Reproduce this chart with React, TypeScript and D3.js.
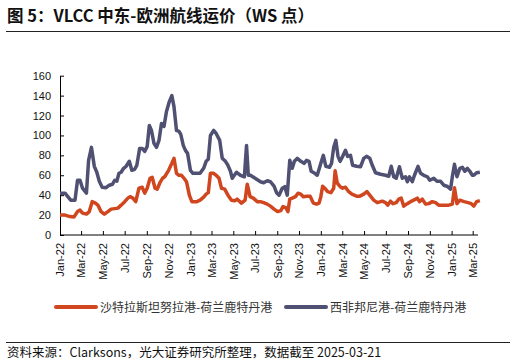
import React, { useEffect, useRef } from 'react';
import * as d3 from 'd3';

// 沙特拉斯坦努拉港-荷兰鹿特丹港 (WS)
const redDates = [
  '2022-01-01', '2022-01-15', '2022-01-29', '2022-02-09', '2022-02-19', '2022-02-26', '2022-03-05', '2022-03-16',
  '2022-03-24', '2022-04-01', '2022-04-10', '2022-04-17', '2022-04-26', '2022-05-05', '2022-05-15', '2022-05-24',
  '2022-06-03', '2022-06-12', '2022-06-21', '2022-07-01', '2022-07-10', '2022-07-16', '2022-07-24', '2022-08-01',
  '2022-08-10', '2022-08-19', '2022-08-26', '2022-09-02', '2022-09-10', '2022-09-16', '2022-09-24', '2022-09-30',
  '2022-10-07', '2022-10-15', '2022-10-21', '2022-11-01', '2022-11-10', '2022-11-16', '2022-11-23', '2022-11-30',
  '2022-12-07', '2022-12-14', '2022-12-21', '2022-12-29', '2023-01-05', '2023-01-19', '2023-01-28', '2023-02-07',
  '2023-02-14', '2023-02-20', '2023-02-26', '2023-03-07', '2023-03-14', '2023-03-22', '2023-03-29', '2023-04-07',
  '2023-04-16', '2023-04-26', '2023-05-05', '2023-05-12', '2023-05-24', '2023-06-03', '2023-06-09', '2023-06-17',
  '2023-06-26', '2023-07-07', '2023-07-16', '2023-07-25', '2023-08-04', '2023-08-13', '2023-08-23', '2023-09-02',
  '2023-09-11', '2023-09-17', '2023-09-25', '2023-10-01', '2023-10-06', '2023-10-13', '2023-10-22', '2023-10-29',
  '2023-11-06', '2023-11-13', '2023-11-22', '2023-12-02', '2023-12-11', '2023-12-20', '2023-12-27', '2024-01-01',
  '2024-01-06', '2024-01-12', '2024-01-20', '2024-01-29', '2024-02-06', '2024-02-10', '2024-02-16', '2024-02-24',
  '2024-03-02', '2024-03-10', '2024-03-19', '2024-03-28', '2024-04-10', '2024-04-19', '2024-04-30', '2024-05-09',
  '2024-05-19', '2024-05-28', '2024-06-07', '2024-06-21', '2024-06-30', '2024-07-06', '2024-07-14', '2024-07-21',
  '2024-07-30', '2024-08-06', '2024-08-13', '2024-08-20', '2024-08-30', '2024-09-08', '2024-09-17', '2024-09-27',
  '2024-10-03', '2024-10-11', '2024-10-20', '2024-10-29', '2024-11-08', '2024-11-17', '2024-11-26', '2024-12-10',
  '2024-12-24', '2025-01-03', '2025-01-09', '2025-01-16', '2025-01-24', '2025-02-05', '2025-02-16', '2025-02-25',
  '2025-03-04', '2025-03-12', '2025-03-21',
];
const redValues = [
  20, 20, 18.5, 18, 23.5, 25, 22, 21,
  23.5, 33.5, 32, 30, 23.5, 21, 23.5, 26,
  26.5, 27, 30, 33.5, 37, 38.5, 37, 33.5,
  47, 48, 42, 47, 57, 58, 47, 46,
  52, 57, 58.5, 65, 72, 77, 62, 60,
  60, 57, 53.5, 40, 33.5, 33.5, 35, 38,
  41, 42.5, 62, 62, 60, 57, 47, 46,
  40, 35, 34.5, 36, 32, 35, 51, 38.5,
  37, 33.5, 33.5, 32.5, 31, 29, 26, 23.5,
  24.5, 28.5, 27.5, 23.5, 36, 37, 38.5, 42,
  41, 38.5, 39, 39, 32, 31, 32, 38.5,
  49, 47, 43.5, 42.5, 47, 64.5, 52, 48.5,
  47, 48, 43.5, 41, 39, 39, 41, 43.5,
  39, 35, 32.5, 34, 32.5, 30, 34, 31.5,
  32.5, 36, 37, 29, 31.5, 33.5, 35, 37,
  33.5, 36, 31, 31.5, 33.5, 32.5, 30, 30,
  30, 31, 47.5, 31.5, 35, 33.5, 32.5, 31.5,
  29, 33.5, 34.5,
];

// 西非邦尼港-荷兰鹿特丹港 (WS)
const blueDates = [
  '2022-01-01', '2022-01-15', '2022-01-24', '2022-01-31', '2022-02-12', '2022-02-19', '2022-02-26', '2022-03-05',
  '2022-03-16', '2022-03-22', '2022-03-30', '2022-04-07', '2022-04-14', '2022-04-21', '2022-04-29', '2022-05-10',
  '2022-05-19', '2022-05-28', '2022-06-03', '2022-06-09', '2022-06-15', '2022-06-21', '2022-06-28', '2022-07-05',
  '2022-07-14', '2022-07-21', '2022-07-29', '2022-08-04', '2022-08-12', '2022-08-19', '2022-08-26', '2022-09-02',
  '2022-09-08', '2022-09-14', '2022-09-21', '2022-09-28', '2022-10-05', '2022-10-12', '2022-10-19', '2022-10-26',
  '2022-11-03', '2022-11-10', '2022-11-16', '2022-11-23', '2022-11-30', '2022-12-05', '2022-12-12', '2022-12-18',
  '2022-12-24', '2023-01-01', '2023-01-08', '2023-01-19', '2023-01-28', '2023-02-07', '2023-02-14', '2023-02-20',
  '2023-02-26', '2023-03-07', '2023-03-14', '2023-03-24', '2023-03-31', '2023-04-09', '2023-04-16', '2023-04-23',
  '2023-04-28', '2023-05-10', '2023-05-21', '2023-06-01', '2023-06-07', '2023-06-12', '2023-06-18', '2023-07-01',
  '2023-07-16', '2023-07-25', '2023-08-04', '2023-08-13', '2023-08-23', '2023-08-30', '2023-09-06', '2023-09-15',
  '2023-09-22', '2023-09-29', '2023-10-06', '2023-10-13', '2023-10-19', '2023-10-27', '2023-11-06', '2023-11-15',
  '2023-11-22', '2023-11-29', '2023-12-05', '2023-12-15', '2023-12-22', '2024-01-01', '2024-01-08', '2024-01-15',
  '2024-01-25', '2024-01-31', '2024-02-06', '2024-02-12', '2024-02-18', '2024-02-24', '2024-03-02', '2024-03-10',
  '2024-03-16', '2024-03-24', '2024-03-30', '2024-04-10', '2024-04-21', '2024-04-30', '2024-05-08', '2024-05-17',
  '2024-05-24', '2024-06-02', '2024-06-16', '2024-06-30', '2024-07-09', '2024-07-16', '2024-07-23', '2024-07-30',
  '2024-08-08', '2024-08-16', '2024-08-25', '2024-08-30', '2024-09-05', '2024-09-13', '2024-09-19', '2024-09-29',
  '2024-10-06', '2024-10-15', '2024-10-25', '2024-11-01', '2024-11-12', '2024-11-21', '2024-12-01', '2024-12-10',
  '2024-12-19', '2024-12-29', '2025-01-03', '2025-01-09', '2025-01-16', '2025-01-24', '2025-01-31', '2025-02-07',
  '2025-02-14', '2025-02-21', '2025-02-28', '2025-03-04', '2025-03-12', '2025-03-21',
];
const blueValues = [
  42, 42, 38, 35, 35, 55, 55, 47,
  42, 75, 88, 69, 63, 54, 48, 47.5,
  50, 51, 55, 54, 62, 63, 67, 69,
  74, 65, 66, 70, 87, 87, 84, 89,
  110, 105, 92, 88, 95, 112, 109, 124,
  134, 140, 129, 105, 104, 101, 90, 85,
  82, 65, 62, 62, 62, 67, 74, 76,
  100, 105, 102, 95, 77, 74, 70, 64,
  57, 63, 60, 58.5, 90, 60, 60, 57,
  53.5, 52.5, 54.5, 53.5, 49, 42.5, 40, 47,
  48.5, 40, 75, 67, 74, 77, 74, 72,
  75, 74, 64, 62, 60, 72, 80, 69,
  68, 72, 88, 95, 79, 74, 79, 85,
  79, 80, 70, 69, 68.5, 77, 79, 77,
  70, 62.5, 61, 60, 59, 69, 58.5, 57,
  68.5, 57, 58.5, 53.5, 58.5, 53.5, 60, 69,
  62, 60, 58.5, 55, 57, 54, 54, 50,
  49, 46, 58.5, 71, 58.5, 67, 68, 64,
  67, 64, 60, 60, 62.5, 63,
];

const yTicks = [0, 20, 40, 60, 80, 100, 120, 140, 160];
const seriesNames = ['沙特拉斯坦努拉港-荷兰鹿特丹港', '西非邦尼港-荷兰鹿特丹港'];
const seriesColors = ['#d0461f', '#4f5072'];

const App = () => {
  const ref = useRef<SVGSVGElement | null>(null);

  useEffect(() => {
    if (!ref.current) return;
    const W = 516, H = 364;
    const svg = d3.select(ref.current);
    svg.selectAll('*').remove();

    const cjk = '"Noto Sans CJK SC", "Noto Sans", sans-serif';
    const latin = '"Liberation Sans", Arial, sans-serif';

    // title
    svg.append('text')
      .attr('x', 7).attr('y', 22)
      .attr('font-family', cjk).attr('font-weight', 'bold').attr('font-size', 16.5)
      .attr('fill', '#111')
      .text('图 5：VLCC 中东-欧洲航线运价（WS 点）');
    svg.append('line')
      .attr('x1', 6).attr('x2', 510).attr('y1', 31.5).attr('y2', 31.5)
      .attr('stroke', '#222').attr('stroke-width', 1);

    const parse = d3.timeParse('%Y-%m-%d');
    const x = d3.scaleTime()
      .domain([parse('2022-01-01')!, parse('2025-03-01')!])
      .range([60, 472.7]);
    const y = d3.scaleLinear().domain([0, 160]).range([235, 75.7]);

    // y axis
    const yAxis = svg.append('g')
      .attr('transform', 'translate(60,0)')
      .call(d3.axisLeft(y).tickValues(yTicks).tickSizeInner(-4).tickSizeOuter(0).tickPadding(9));
    yAxis.select('.domain').attr('stroke', '#000');
    yAxis.selectAll('.tick line').attr('stroke', '#000');
    yAxis.selectAll('text').attr('font-family', latin).attr('font-size', 11).attr('fill', '#111');

    // x axis
    const xTicks = d3.timeMonth.every(2)!.range(parse('2022-01-01')!, parse('2025-03-02')!);
    const xAxis = svg.append('g')
      .attr('transform', 'translate(0,235)')
      .call(d3.axisBottom(x).tickValues(xTicks).tickFormat(d3.timeFormat('%b-%y') as any)
        .tickSizeInner(-4).tickSizeOuter(0));
    xAxis.select('.domain').attr('d', 'M60,0H478').attr('stroke', '#000');
    xAxis.selectAll('.tick line').attr('stroke', '#000');
    xAxis.selectAll('text')
      .attr('font-family', latin).attr('font-size', 11).attr('fill', '#111')
      .attr('transform', 'rotate(-90)')
      .attr('text-anchor', 'end')
      .attr('x', -8).attr('y', 0).attr('dy', '0.35em');

    const line = d3.line<[Date, number]>()
      .x(d => x(d[0]))
      .y(d => y(d[1]))
      .curve(d3.curveLinear);

    const blue: [Date, number][] = blueDates.map((d, i) => [parse(d)!, blueValues[i]]);
    const red: [Date, number][] = redDates.map((d, i) => [parse(d)!, redValues[i]]);

    svg.append('path').datum(blue)
      .attr('d', line).attr('fill', 'none')
      .attr('stroke', seriesColors[1]).attr('stroke-width', 3.5)
      .attr('stroke-linejoin', 'round');
    svg.append('path').datum(red)
      .attr('d', line).attr('fill', 'none')
      .attr('stroke', seriesColors[0]).attr('stroke-width', 3.5)
      .attr('stroke-linejoin', 'round');

    // legend
    const legendX = [56, 286];
    seriesNames.forEach((name, i) => {
      svg.append('line')
        .attr('x1', legendX[i]).attr('x2', legendX[i] + 40)
        .attr('y1', 307).attr('y2', 307)
        .attr('stroke', seriesColors[i]).attr('stroke-width', 4).attr('stroke-linecap', 'round');
      svg.append('text')
        .attr('x', legendX[i] + 44).attr('y', 311.5)
        .attr('font-family', cjk).attr('font-size', 12).attr('fill', '#333')
        .text(name);
    });

    // source
    svg.append('line')
      .attr('x1', 6).attr('x2', 510).attr('y1', 342.5).attr('y2', 342.5)
      .attr('stroke', '#222').attr('stroke-width', 1);
    svg.append('text')
      .attr('x', 7).attr('y', 357)
      .attr('font-family', cjk).attr('font-size', 12.5).attr('fill', '#111')
      .text('资料来源：Clarksons，光大证券研究所整理，数据截至 2025-03-21');

    svg.attr('width', W).attr('height', H);
  }, []);

  return (
    <svg ref={ref} width={516} height={364}
      style={{ position: 'absolute', left: 0, top: 0, background: '#fff' }} />
  );
};

export default App;
